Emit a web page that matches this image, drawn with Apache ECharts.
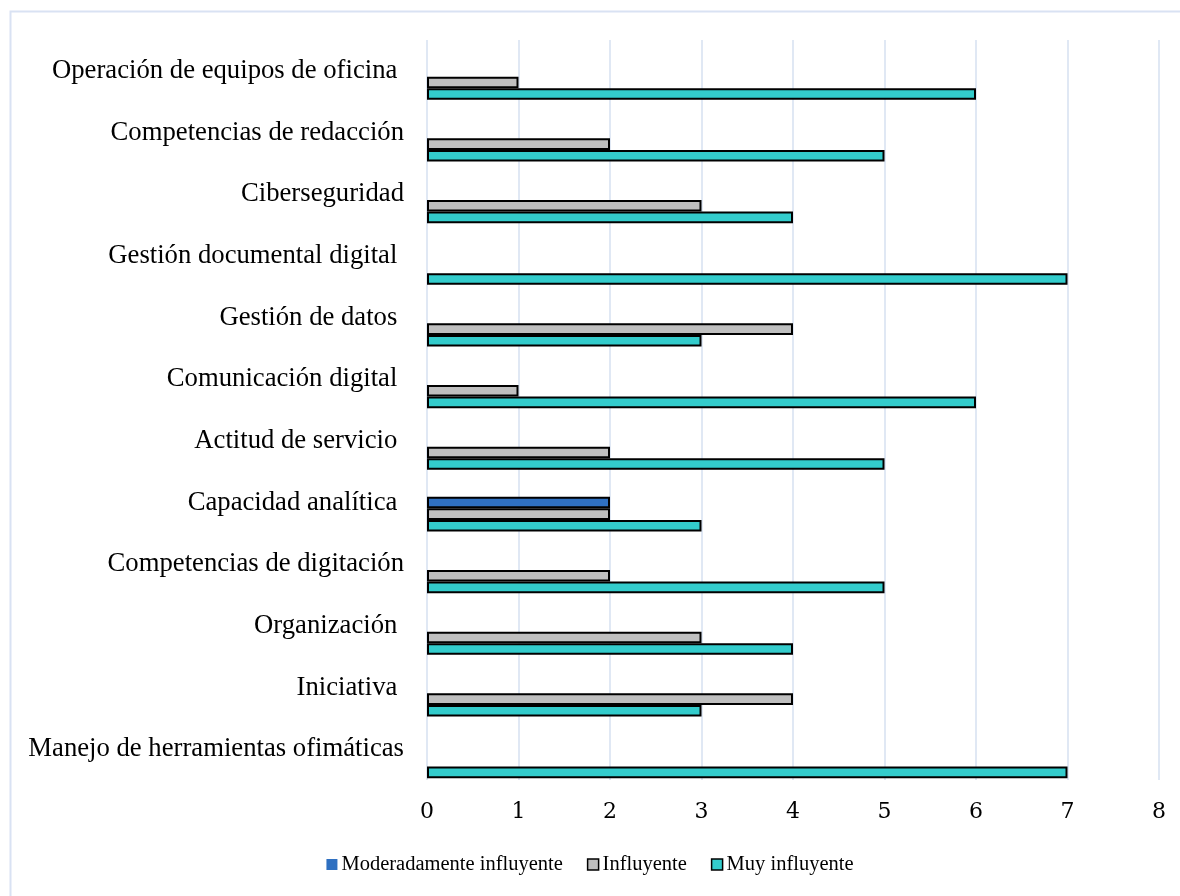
<!DOCTYPE html>
<html>
<head>
<meta charset="utf-8">
<script src="https://cdn.jsdelivr.net/npm/echarts@6/dist/echarts.min.js"></script>
<style>
  html, body { margin: 0; padding: 0; background: #ffffff; }
  #chart { width: 1180px; height: 896px; }
</style>
</head>
<body>
<div id="chart"></div>
<script>
// Competencias (de abajo hacia arriba en el eje vertical)
const categorias = [
  'Manejo de herramientas ofimáticas',
  'Iniciativa ',
  'Organización ',
  'Competencias de digitación',
  'Capacidad analítica ',
  'Actitud de servicio ',
  'Comunicación digital ',
  'Gestión de datos ',
  'Gestión documental digital ',
  'Ciberseguridad',
  'Competencias de redacción',
  'Operación de equipos de oficina '
];

// Frecuencias por nivel de influencia (null = sin respuestas)
const nadaInfluyente      = [null, null, null, null, null, null, null, null, null, null, null, null];
const pocoInfluyente      = [null, null, null, null, null, null, null, null, null, null, null, null];
const moderadoInfluyente  = [null, null, null, null, 2, null, null, null, null, null, null, null];
const influyente          = [null, 4, 3, 2, 2, 2, 1, 4, null, 3, 2, 1];
const muyInfluyente       = [7, 3, 4, 5, 3, 5, 6, 3, 7, 4, 5, 6];

const ticksX = [0, 1, 2, 3, 4, 5, 6, 7, 8];

const fuente = '"Liberation Serif", "Times New Roman", serif';
const fuenteNumeros = '"DejaVu Serif", "Liberation Serif", serif';

function serie(nombre, datos, color) {
  return {
    name: nombre,
    type: 'bar',
    data: datos,
    barGap: '0%',
    barCategoryGap: '6%',
    itemStyle: { color: color, borderColor: '#000000', borderWidth: 2 },
    emphasis: { disabled: true }
  };
}

const chart = echarts.init(document.getElementById('chart'), null, { renderer: 'canvas' });

chart.setOption({
  animation: false,
  backgroundColor: '#ffffff',
  graphic: [
    {
      type: 'polyline',
      shape: { points: [[10.5, 900], [10.5, 11.5], [1185, 11.5]] },
      style: { stroke: '#d9e2f3', lineWidth: 2, fill: null },
      silent: true
    }
  ],
  grid: { left: 427, right: 21, top: 40, bottom: 116, containLabel: false },
  legend: {
    data: [
      { name: 'Moderadamente influyente', itemStyle: { borderWidth: 0 } },
      { name: 'Influyente', itemStyle: { borderWidth: 1.5 } },
      { name: 'Muy influyente', itemStyle: { borderWidth: 1.5 } }
    ],
    bottom: 16,
    left: 'center',
    itemWidth: 11,
    itemHeight: 11,
    itemGap: 24,
    icon: 'rect',
    textStyle: { fontFamily: fuente, fontSize: 20.5, color: '#000000', padding: [0, 0, 0, -1] }
  },
  xAxis: {
    type: 'value',
    min: ticksX[0],
    max: ticksX[ticksX.length - 1],
    interval: 1,
    axisLine: { show: false },
    axisTick: { show: false },
    splitLine: { show: true, lineStyle: { color: '#d6e0f0', width: 1.5 } },
    axisLabel: {
      fontFamily: fuenteNumeros, fontSize: 22, color: '#000000', margin: 21,
      formatter: v => String(v)
    }
  },
  yAxis: {
    type: 'category',
    data: categorias,
    axisLine: { show: false },
    axisTick: { show: false },
    splitLine: { show: false },
    axisLabel: {
      fontFamily: fuente, fontSize: 26.7, color: '#000000', margin: 23,
      interval: 0
    }
  },
  series: [
    serie('Nada influyente', nadaInfluyente, '#7f7f7f'),
    serie('Poco influyente', pocoInfluyente, '#a5a5a5'),
    serie('Moderadamente influyente', moderadoInfluyente, '#2f70c1'),
    serie('Influyente', influyente, '#bfbfbf'),
    serie('Muy influyente', muyInfluyente, '#33cccc')
  ]
});
</script>
</body>
</html>
